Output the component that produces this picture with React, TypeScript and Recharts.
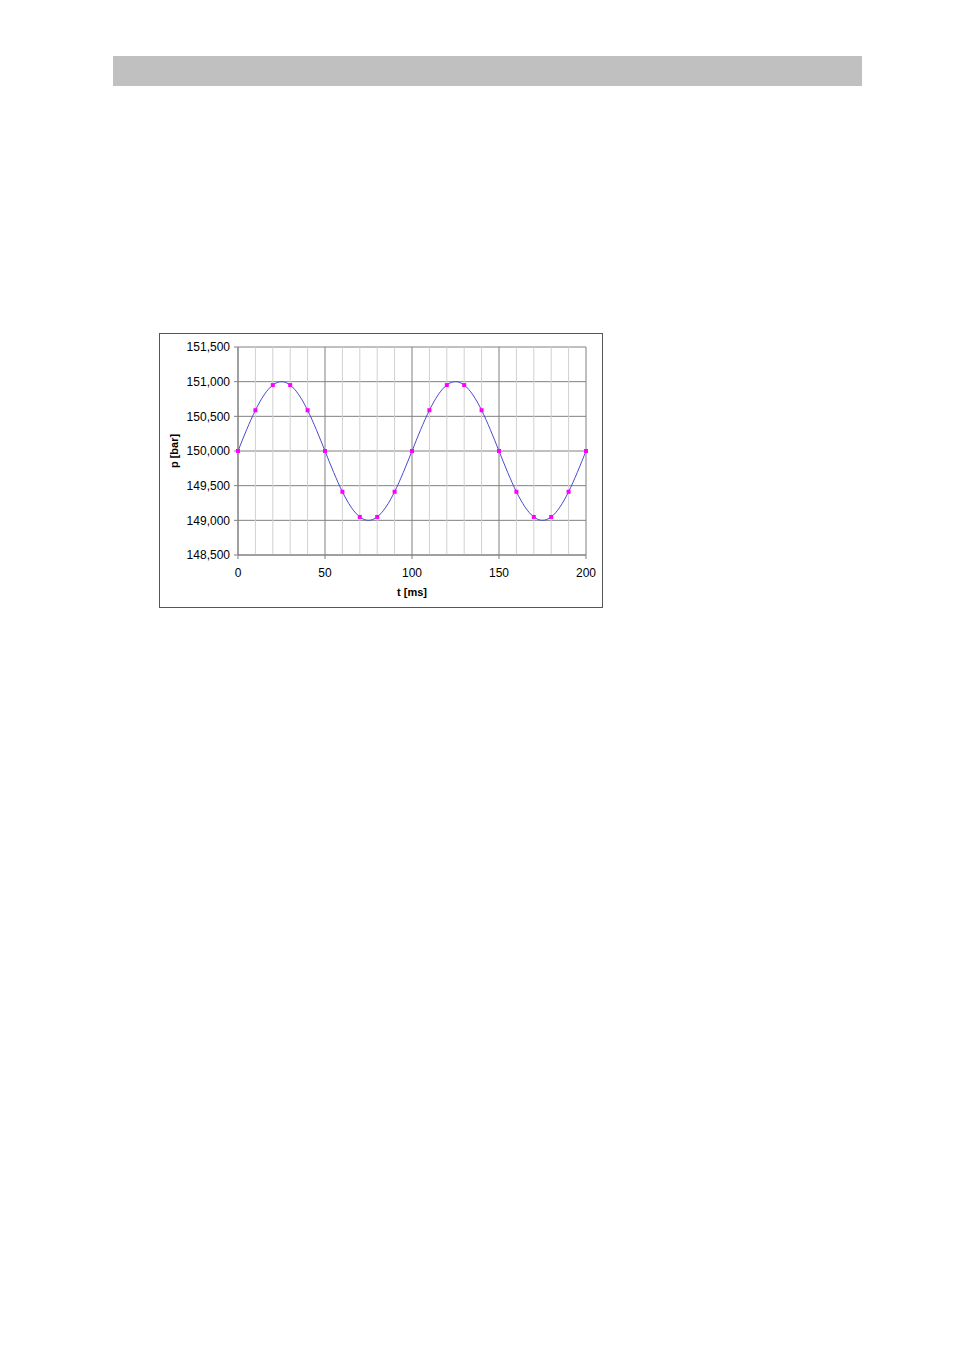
import { ComposedChart, Line, Scatter, XAxis, YAxis, CartesianGrid, ReferenceLine } from 'recharts'

// pressure curve, read every 5 ms
const curveTimes = [0, 5, 10, 15, 20, 25, 30, 35, 40, 45, 50, 55, 60, 65, 70, 75, 80, 85, 90, 95, 100,
  105, 110, 115, 120, 125, 130, 135, 140, 145, 150, 155, 160, 165, 170, 175, 180, 185, 190, 195, 200]
const curveValues = [150000, 150309, 150588, 150809, 150951, 151000, 150951, 150809, 150588, 150309, 150000,
  149691, 149412, 149191, 149049, 149000, 149049, 149191, 149412, 149691, 150000,
  150309, 150588, 150809, 150951, 151000, 150951, 150809, 150588, 150309, 150000,
  149691, 149412, 149191, 149049, 149000, 149049, 149191, 149412, 149691, 150000]

// sampled points (magenta markers), every 10 ms
const sampleTimes = [0, 10, 20, 30, 40, 50, 60, 70, 80, 90, 100, 110, 120, 130, 140, 150, 160, 170, 180, 190, 200]
const sampleValues = [150000, 150588, 150951, 150951, 150588, 150000, 149412, 149049, 149049, 149412, 150000,
  150588, 150951, 150951, 150588, 150000, 149412, 149049, 149049, 149412, 150000]

const xTicks = [0, 50, 100, 150, 200]
const xMinor = [10, 20, 30, 40, 60, 70, 80, 90, 110, 120, 130, 140, 160, 170, 180, 190]
const yTicks = [148500, 149000, 149500, 150000, 150500, 151000, 151500]

const curve = curveTimes.map((t, i) => ({ t, p: curveValues[i] }))
const samples = sampleTimes.map((t, i) => ({ t, p: sampleValues[i] }))

const font = "'Liberation Sans', Arial, sans-serif"

function SquareDot(props: any) {
  const { cx, cy } = props
  if (cx == null || cy == null) return null
  return <rect x={cx - 2} y={cy - 2} width={4} height={4} fill="#ff00ff" />
}

export default function App() {
  return (
    <div style={{ position: 'absolute', left: 0, top: 0, width: 954, height: 1348, background: '#fff', fontFamily: font }}>
      <div style={{ position: 'absolute', left: 113, top: 56, width: 749, height: 30, background: '#c0c0c0' }} />
      <div style={{ position: 'absolute', left: 159, top: 333, width: 444, height: 275, boxSizing: 'border-box', border: '1px solid #555' }} />
      <div style={{ position: 'absolute', left: 159, top: 333 }}>
        <ComposedChart width={444} height={275} data={curve} margin={{ top: 14, right: 17, bottom: 0, left: 0 }}>
          <CartesianGrid stroke="#808080" strokeWidth={1} />
          {xMinor.map(x => (
            <ReferenceLine key={x} x={x} stroke="#d0d0d0" strokeWidth={1} />
          ))}
          <XAxis
            dataKey="t"
            type="number"
            domain={[0, 200]}
            ticks={xTicks}
            height={53}
            tickSize={4}
            tickMargin={9}
            stroke="#808080"
            tick={{ fill: '#000', fontSize: 12, fontFamily: font }}
            label={{ value: 't [ms]', position: 'insideBottom', offset: 12, fill: '#000', fontSize: 11, fontWeight: 'bold', fontFamily: font }}
          />
          <YAxis
            type="number"
            domain={[148500, 151500]}
            ticks={yTicks}
            width={79}
            tickSize={4}
            tickMargin={4}
            stroke="#808080"
            tickFormatter={v => v.toLocaleString('en-US')}
            tick={{ fill: '#000', fontSize: 12, fontFamily: font }}
            label={{ value: 'p [bar]', angle: -90, position: 'insideLeft', offset: 15, fill: '#000', fontSize: 11, fontWeight: 'bold', fontFamily: font, style: { textAnchor: 'middle' } }}
          />
          <Line type="natural" dataKey="p" stroke="#4a4ad0" strokeWidth={1} dot={false} isAnimationActive={false} />
          <Scatter data={samples} dataKey="p" shape={SquareDot} isAnimationActive={false} />
        </ComposedChart>
      </div>
    </div>
  )
}
